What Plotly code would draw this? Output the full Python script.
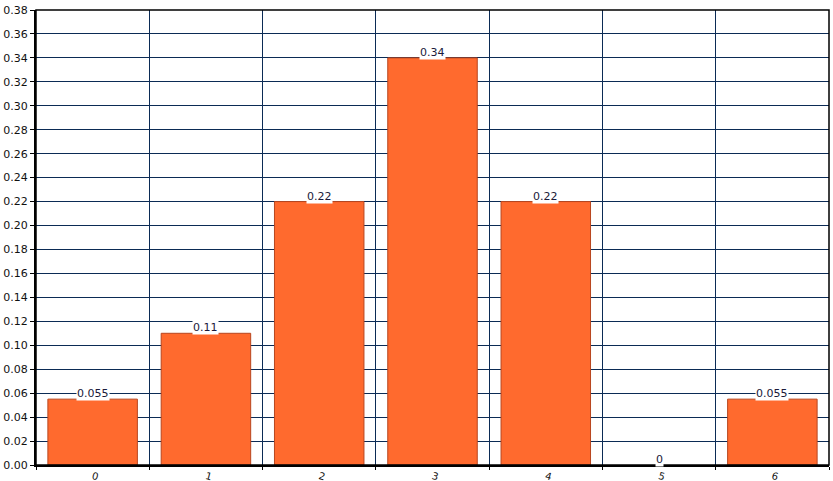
import plotly.graph_objects as go

categories = ["0", "1", "2", "3", "4", "5", "6"]
values = [0.055, 0.11, 0.22, 0.34, 0.22, 0.0, 0.055]
value_labels = ["0.055", "0.11", "0.22", "0.34", "0.22", "0", "0.055"]
y_ticks = [round(i * 0.02, 2) for i in range(20)]

grid_color = "#0B2B55"
fig = go.Figure()
fig.add_trace(go.Bar(
    x=categories, y=values, width=0.79,
    marker=dict(color="#FF6A2E",
                line=dict(color="#B8461F", width=[1 if v > 0 else 0 for v in values])),
    hoverinfo="skip",
))
for c, v, t in zip(categories, values, value_labels):
    fig.add_annotation(x=c, y=v, text=t, showarrow=False, yanchor="bottom",
                       yshift=-2, bgcolor="white", borderpad=0,
                       font=dict(family="DejaVu Sans", size=11, color="#1A1A3A"))

fig.update_layout(
    width=833, height=481,
    margin=dict(l=36, r=4, t=10, b=16, autoexpand=False),
    plot_bgcolor="white", paper_bgcolor="white",
    showlegend=False,
    font=dict(family="DejaVu Sans", size=11, color="#111111"),
)
fig.update_xaxes(
    type="category", tickson="boundaries", ticks="outside", ticklen=3,
    tickcolor="black", showgrid=True, gridcolor=grid_color, gridwidth=1,
    showline=True, linecolor="black", linewidth=2, mirror=False,
    tickangle=15, tickfont=dict(size=10), automargin=False,
)
fig.update_yaxes(
    range=[0, 0.38], tickvals=y_ticks, tickformat=".2f", ticks="outside",
    ticklen=4, tickcolor="black", showgrid=True, gridcolor=grid_color,
    gridwidth=1, showline=True, linecolor="black", linewidth=2,
    zeroline=False, tickfont=dict(size=11), automargin=False,
)
fig.add_shape(type="rect", xref="paper", yref="paper", x0=0, y0=0, x1=1, y1=1,
              line=dict(color="black", width=1.5), layer="above")
fig.write_html("out.html", config={"displayModeBar": False},
               post_script="document.body.style.margin='0';document.body.style.overflow='hidden';")
